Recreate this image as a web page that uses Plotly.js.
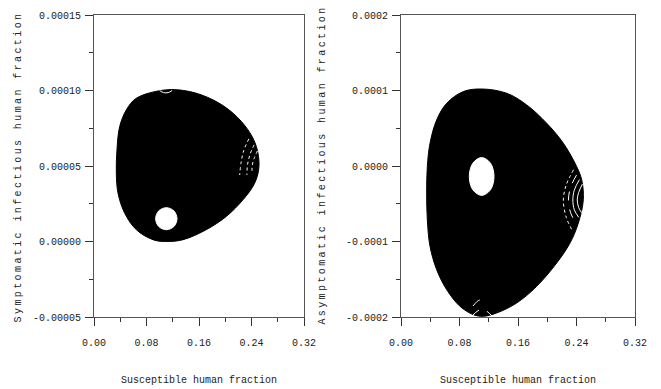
<!DOCTYPE html>
<html>
<head>
<meta charset="utf-8">
<script src="https://cdn.plot.ly/plotly-3.0.1.min.js"></script>
<style>
html,body{margin:0;padding:0;background:#fff;}
#chart{width:661px;height:389px;}
.annotation[data-index="0"] .annotation-text,
.annotation[data-index="1"] .annotation-text{letter-spacing:2.4px;}
</style>
</head>
<body>
<div id="chart"></div>
<script>
// ---- Left panel: susceptible vs symptomatic infectious (outer envelope of the dense orbit) ----
var leftOuterX = [0.1087, 0.0645, 0.0493, 0.0391, 0.0350, 0.0340, 0.0366, 0.0467, 0.0645, 0.0899, 0.1087, 0.1356, 0.1710, 0.2016, 0.2270, 0.2448, 0.2514, 0.2474, 0.2347, 0.2118, 0.1813, 0.1458, 0.1087];
var leftOuterY = [0.0001004, 0.0000949, 0.0000872, 0.0000761, 0.0000607, 0.0000453, 0.0000320, 0.0000188, 0.0000078, 0.0000012, 0.0000000, 0.0000012, 0.0000078, 0.0000166, 0.0000276, 0.0000386, 0.0000497, 0.0000629, 0.0000739, 0.0000850, 0.0000938, 0.0000993, 0.0001004];
// hole left unvisited by the orbit
var leftHoleX = [0.1265, 0.1217, 0.1102, 0.0987, 0.0939, 0.0987, 0.1102, 0.1217, 0.1265];
var leftHoleY = [0.0000151, 0.0000203, 0.0000224, 0.0000203, 0.0000151, 0.0000099, 0.0000078, 0.0000099, 0.0000151];
// faint white gaps between orbit turns
var leftArc1X = [0.236, 0.228, 0.224, 0.222];
var leftArc1Y = [0.000068, 0.000060, 0.000052, 0.000044];
var leftArc2X = [0.244, 0.238, 0.234, 0.233];
var leftArc2Y = [0.000064, 0.000058, 0.000051, 0.000044];
var leftArc3X = [0.249, 0.244, 0.241, 0.241];
var leftArc3Y = [0.000060, 0.000055, 0.000050, 0.000045];
var leftTopArcX = [0.100, 0.106, 0.113, 0.119];
var leftTopArcY = [0.0001000, 0.0000986, 0.0000986, 0.0001000];

// ---- Right panel: susceptible vs asymptomatic infectious ----
var rightOuterX = [0.1103, 0.0852, 0.0625, 0.0488, 0.0397, 0.0360, 0.0351, 0.0360, 0.0397, 0.0488, 0.0625, 0.0807, 0.0989, 0.1126, 0.1308, 0.1582, 0.1855, 0.2129, 0.2311, 0.2425, 0.2493, 0.2471, 0.2402, 0.2220, 0.1992, 0.1719, 0.1445, 0.1103];
var rightOuterY = [0.0001020, 0.0000986, 0.0000831, 0.0000611, 0.0000302, -0.0000007, -0.0000359, -0.0000712, -0.0001065, -0.0001374, -0.0001638, -0.0001859, -0.0001969, -0.0001991, -0.0001947, -0.0001815, -0.0001594, -0.0001285, -0.0001021, -0.0000756, -0.0000448, -0.0000183, -0.0000007, 0.0000302, 0.0000567, 0.0000809, 0.0000964, 0.0001020];
var rightHoleX = [0.1272, 0.1223, 0.1103, 0.0983, 0.0934, 0.0983, 0.1103, 0.1223, 0.1272];
var rightHoleY = [-0.0000139, 0.0000038, 0.0000112, 0.0000038, -0.0000139, -0.0000316, -0.0000390, -0.0000316, -0.0000139];
var rightArc1X = [0.236, 0.226, 0.222, 0.226, 0.234];
var rightArc1Y = [-0.000005, -0.000025, -0.000045, -0.000068, -0.000085];
var rightArc2X = [0.240, 0.232, 0.229, 0.232, 0.239];
var rightArc2Y = [-0.000012, -0.000028, -0.000045, -0.000062, -0.000075];
var rightArc3X = [0.244, 0.237, 0.235, 0.237, 0.243];
var rightArc3Y = [-0.000018, -0.000032, -0.000045, -0.000058, -0.000068];
var rightArc4X = [0.248, 0.243, 0.241, 0.243, 0.247];
var rightArc4Y = [-0.000024, -0.000035, -0.000045, -0.000055, -0.000062];
var rightBotArc1X = [0.0971, 0.1108, 0.1245];
var rightBotArc1Y = [-0.0001987, -0.0001894, -0.0001987];
var rightBotArc2X = [0.0985, 0.1080, 0.1176];
var rightBotArc2Y = [-0.0001854, -0.0001775, -0.0001840];

// ---- Ticks ----
var xTickVals = [0, 0.08, 0.16, 0.24, 0.32];
var xTickText = ["0.00", "0.08", "0.16", "0.24", "0.32"];
var xMinorVals = [0.04, 0.12, 0.20, 0.28];
var leftYTickVals = [-0.00005, 0, 0.00005, 0.0001, 0.00015];
var leftYTickText = ["-0.00005", "0.00000", "0.00005", "0.00010", "0.00015"];
var leftYMinorVals = [-0.000025, 0.000025, 0.000075, 0.000125];
var rightYTickVals = [-0.0002, -0.0001, 0, 0.0001, 0.0002];
var rightYTickText = ["-0.0002", "-0.0001", "0.0000", "0.0001", "0.0002"];
var rightYMinorVals = [-0.00015, -0.00005, 0.00005, 0.00015];

var leftYTitle = "Symptomatic infectious human fraction";
var rightYTitle = "Asymptomatic infectious human fraction";
var xTitle = "Susceptible human fraction";

var MONO = "Liberation Mono, DejaVu Sans Mono, monospace";

function blob(x, y, xa, ya, color) {
  return {x: x, y: y, xaxis: xa, yaxis: ya, type: 'scatter', mode: 'lines',
    fill: 'toself', fillcolor: color, line: {color: color, width: 1, shape: 'spline', smoothing: 1},
    hoverinfo: 'skip'};
}
function arc(x, y, xa, ya, dash) {
  return {x: x, y: y, xaxis: xa, yaxis: ya, type: 'scatter', mode: 'lines',
    line: {color: '#ffffff', width: 1, shape: 'spline', dash: dash}, hoverinfo: 'skip'};
}

var traces = [
  blob(leftOuterX, leftOuterY, 'x', 'y', '#000000'),
  blob(leftHoleX, leftHoleY, 'x', 'y', '#ffffff'),
  arc(leftArc1X, leftArc1Y, 'x', 'y', 'dot'),
  arc(leftArc2X, leftArc2Y, 'x', 'y', 'dot'),
  arc(leftArc3X, leftArc3Y, 'x', 'y', 'dot'),
  arc(leftTopArcX, leftTopArcY, 'x', 'y', 'solid'),
  blob(rightOuterX, rightOuterY, 'x2', 'y2', '#000000'),
  blob(rightHoleX, rightHoleY, 'x2', 'y2', '#ffffff'),
  arc(rightArc1X, rightArc1Y, 'x2', 'y2', 'dot'),
  arc(rightArc2X, rightArc2Y, 'x2', 'y2', 'dash'),
  arc(rightArc3X, rightArc3Y, 'x2', 'y2', 'solid'),
  arc(rightArc4X, rightArc4Y, 'x2', 'y2', 'solid'),
  arc(rightBotArc1X, rightBotArc1Y, 'x2', 'y2', 'dash'),
  arc(rightBotArc2X, rightBotArc2Y, 'x2', 'y2', 'dash')
];

function xAxis(domain, anchor) {
  return {domain: domain, anchor: anchor, range: [0, 0.32], tickmode: 'array',
    tickvals: xTickVals, ticktext: xTickText, ticks: 'outside', ticklen: 8, tickwidth: 1,
    tickcolor: '#333', showline: true, linecolor: '#555', linewidth: 1, mirror: true,
    showgrid: false, zeroline: false, ticklabelstandoff: 8,
    tickfont: {family: MONO, size: 10, color: '#222'},
    minor: {tickmode: 'array', tickvals: xMinorVals, ticks: 'outside', ticklen: 4, tickcolor: '#333', showgrid: false}};
}
function yAxis(domain, anchor, range, vals, text, minorVals) {
  return {domain: domain, anchor: anchor, range: range, tickmode: 'array',
    tickvals: vals, ticktext: text, ticks: 'outside', ticklen: 8, tickwidth: 1,
    tickcolor: '#333', showline: true, linecolor: '#555', linewidth: 1, mirror: true,
    showgrid: false, zeroline: false, ticklabelstandoff: 2,
    tickfont: {family: MONO, size: 10, color: '#222'},
    minor: {tickmode: 'array', tickvals: minorVals, ticks: 'outside', ticklen: 4, tickcolor: '#333', showgrid: false}};
}

var yDom = [1 - 317 / 389, 1 - 15 / 389];
var layout = {
  width: 661, height: 389,
  margin: {l: 0, r: 0, t: 0, b: 0},
  paper_bgcolor: '#ffffff', plot_bgcolor: '#ffffff',
  showlegend: false,
  xaxis: xAxis([94 / 661, 304 / 661], 'y'),
  yaxis: yAxis(yDom, 'x', [-0.00005, 0.00015], leftYTickVals, leftYTickText, leftYMinorVals),
  xaxis2: xAxis([401 / 661, 635 / 661], 'y2'),
  yaxis2: yAxis(yDom, 'x2', [-0.0002, 0.0002], rightYTickVals, rightYTickText, rightYMinorVals),
  annotations: [
    {text: leftYTitle, xref: 'paper', yref: 'paper', x: 18 / 661, y: 1 - 167 / 389, textangle: -90,
      showarrow: false, xanchor: 'center', yanchor: 'middle', font: {family: MONO, size: 10, color: '#222'}},
    {text: rightYTitle, xref: 'paper', yref: 'paper', x: 322 / 661, y: 1 - 165 / 389, textangle: -90,
      showarrow: false, xanchor: 'center', yanchor: 'middle', font: {family: MONO, size: 10, color: '#222'}},
    {text: xTitle, xref: 'paper', yref: 'paper', x: 199 / 661, y: 1 - 380 / 389,
      showarrow: false, xanchor: 'center', yanchor: 'middle', font: {family: MONO, size: 10, color: '#222'}},
    {text: xTitle, xref: 'paper', yref: 'paper', x: 518 / 661, y: 1 - 380 / 389,
      showarrow: false, xanchor: 'center', yanchor: 'middle', font: {family: MONO, size: 10, color: '#222'}}
  ]
};

Plotly.newPlot('chart', traces, layout, {staticPlot: true, displayModeBar: false});
</script>
</body>
</html>
